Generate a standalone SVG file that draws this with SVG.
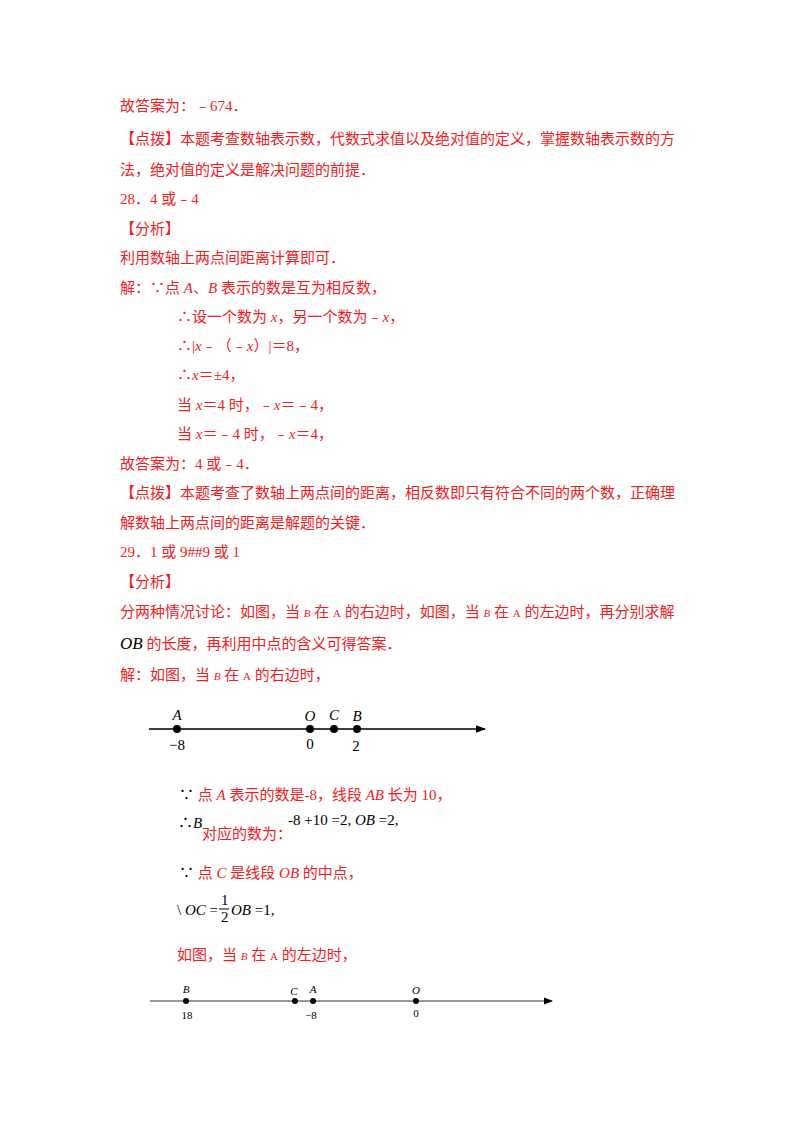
<svg xmlns="http://www.w3.org/2000/svg" width="800" height="1132" viewBox="0 0 800 1132">
<style>
text{font-family:"Liberation Serif","Noto Sans CJK SC",serif;font-size:15px;fill:#f0201e}
.k{fill:#000}
.i{font-style:italic}
.s{font-size:11px}
</style>
<defs><marker id="ar" markerWidth="8" markerHeight="6" refX="7" refY="3" orient="auto"><path d="M0,0L8,3L0,6z" fill="#000"/></marker></defs>
<rect width="800" height="1132" fill="#fff"/>
<text x="120" y="111">故答案为：﹣674．</text>
<text x="120" y="144">【点拨】本题考查数轴表示数，代数式求值以及绝对值的定义，掌握数轴表示数的方</text>
<text x="120" y="175">法，绝对值的定义是解决问题的前提．</text>
<text x="120" y="204">28．4 或﹣4</text>
<text x="120" y="234">【分析】</text>
<text x="120" y="263">利用数轴上两点间距离计算即可．</text>
<text x="120" y="293">解：∵点 <tspan class="i">A</tspan>、<tspan class="i">B</tspan> 表示的数是互为相反数，</text>
<text x="177" y="322">∴设一个数为 <tspan class="i">x</tspan>，另一个数为﹣<tspan class="i">x</tspan>，</text>
<text x="177" y="351">∴|<tspan class="i">x</tspan>﹣（﹣<tspan class="i">x</tspan>）|＝8，</text>
<text x="177" y="380">∴<tspan class="i">x</tspan>＝±4，</text>
<text x="177" y="410">当 <tspan class="i">x</tspan>＝4 时，﹣<tspan class="i">x</tspan>＝﹣4，</text>
<text x="177" y="439">当 <tspan class="i">x</tspan>＝﹣4 时，﹣<tspan class="i">x</tspan>＝4，</text>
<text x="120" y="469">故答案为：4 或﹣4．</text>
<text x="120" y="498">【点拨】本题考查了数轴上两点间的距离，相反数即只有符合不同的两个数，正确理</text>
<text x="120" y="528">解数轴上两点间的距离是解题的关键．</text>
<text x="120" y="557">29．1 或 9##9 或 1</text>
<text x="120" y="587">【分析】</text>
<text x="120" y="617">分两种情况讨论：如图，当 <tspan class="i s">B</tspan> 在 <tspan class="s">A</tspan> 的右边时，如图，当 <tspan class="i s">B</tspan> 在 <tspan class="s">A</tspan> 的左边时，再分别求解</text>
<text x="120" y="649"><tspan class="k i" font-size="17">OB</tspan> 的长度，再利用中点的含义可得答案．</text>
<text x="120" y="680">解：如图，当 <tspan class="i s">B</tspan> 在 <tspan class="s">A</tspan> 的右边时，</text>
<g id="axis1">
<line x1="149" y1="729" x2="485" y2="729" stroke="#000" stroke-width="1.3" marker-end="url(#ar)"/>
<circle cx="177" cy="729" r="4"/><circle cx="310" cy="729" r="4"/><circle cx="334" cy="729" r="4"/><circle cx="357" cy="729" r="4"/>
<text class="k i" x="177" y="720" text-anchor="middle">A</text>
<text class="k i" x="310" y="721" text-anchor="middle">O</text>
<text class="k i" x="334" y="720" text-anchor="middle">C</text>
<text class="k i" x="357" y="721" text-anchor="middle">B</text>
<text class="k" x="177" y="750" text-anchor="middle">−8</text>
<text class="k" x="310" y="749" text-anchor="middle">0</text>
<text class="k" x="356" y="751" text-anchor="middle">2</text>
</g>
<text x="179" y="800"><tspan class="k">∵</tspan>  点 <tspan class="i">A</tspan> 表示的数是-8，线段 <tspan class="i">AB</tspan> 长为 10，</text>
<text class="k" x="178" y="828">∴<tspan class="i">B</tspan></text>
<text x="202" y="839">对应的数为：</text>
<text class="k" x="288" y="825">-8 +10 =2,  <tspan class="i">OB</tspan> =2,</text>
<text x="179" y="878"><tspan class="k">∵</tspan>  点 <tspan class="i">C</tspan> 是线段 <tspan class="i">OB</tspan> 的中点，</text>
<g class="k">
<text class="k" x="177" y="915">\  <tspan class="i">OC</tspan> =</text>
<text class="k" x="221" y="905" font-size="12">1</text>
<line x1="219" y1="909" x2="229" y2="909" stroke="#000"/>
<text class="k" x="221" y="922" font-size="12">2</text>
<text class="k" x="231" y="915"><tspan class="i">OB</tspan> =1,</text>
</g>
<text x="177" y="960">如图，当 <tspan class="i s">B</tspan> 在 <tspan class="s">A</tspan> 的左边时，</text>
<g id="axis2">
<line x1="150" y1="1001" x2="552" y2="1001" stroke="#333" stroke-width="1.2" marker-end="url(#ar)"/>
<circle cx="186" cy="1001" r="3"/><circle cx="295" cy="1001" r="3"/><circle cx="313" cy="1001" r="3"/><circle cx="416" cy="1001" r="3"/>
<text class="k i s" x="186" y="993" text-anchor="middle">B</text>
<text class="k i s" x="294" y="995" text-anchor="middle">C</text>
<text class="k i s" x="313" y="993" text-anchor="middle">A</text>
<text class="k i s" x="416" y="994" text-anchor="middle" font-size="12">O</text>
<text class="k s" x="187" y="1019" text-anchor="middle">18</text>
<text class="k s" x="311" y="1019" text-anchor="middle">−8</text>
<text class="k s" x="416" y="1017" text-anchor="middle">0</text>
</g>
</svg>
